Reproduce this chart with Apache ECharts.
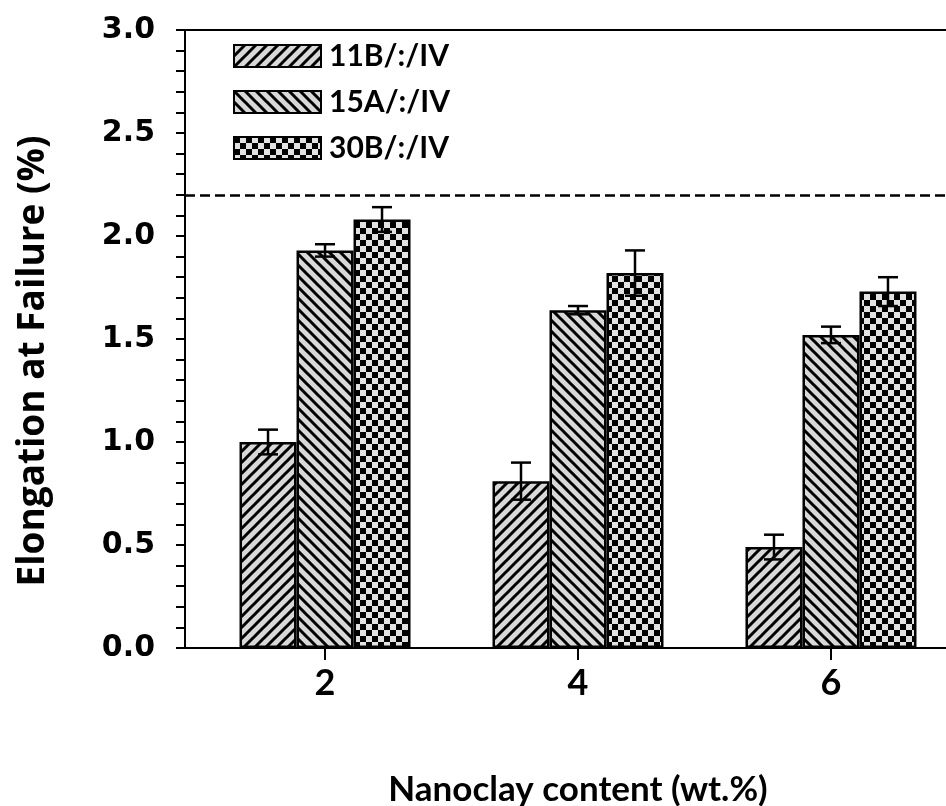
<!DOCTYPE html>
<html>
<head>
<meta charset="utf-8">
<script src="https://cdn.jsdelivr.net/npm/echarts@6/dist/echarts.min.js"></script>
<style>
html,body{margin:0;padding:0;background:#fff;}
#chart{width:946px;height:806px;}
</style>
</head>
<body>
<div id="chart"></div>
<script>
// ---- data ----
const categories = [2, 4, 6];
const seriesNames = ['11B/:/IV', '15A/:/IV', '30B/:/IV'];
const vals11B = [1.00, 0.81, 0.49];
const err11B = [0.06, 0.09, 0.06];
const vals15A = [1.93, 1.64, 1.52];
const err15A = [0.03, 0.02, 0.04];
const vals30B = [2.08, 1.82, 1.73];
const err30B = [0.06, 0.11, 0.07];
const referenceLine = 2.2;
const yTicks = [0, 0.5, 1.0, 1.5, 2.0, 2.5, 3.0];

// ---- patterns ----
function hatch(dir) {
  const s = 11;
  const c = document.createElement('canvas');
  c.width = s; c.height = s;
  const g = c.getContext('2d');
  g.fillStyle = '#d8d8d8';
  g.fillRect(0, 0, s, s);
  g.strokeStyle = '#000';
  g.lineWidth = 3;
  g.beginPath();
  if (dir > 0) {
    g.moveTo(-2, s + 2); g.lineTo(s + 2, -2);
    g.moveTo(-2, 2); g.lineTo(2, -2);
    g.moveTo(s - 2, s + 2); g.lineTo(s + 2, s - 2);
  } else {
    g.moveTo(-2, -2); g.lineTo(s + 2, s + 2);
    g.moveTo(s - 2, -2); g.lineTo(s + 2, 2);
    g.moveTo(-2, s - 2); g.lineTo(2, s + 2);
  }
  g.stroke();
  return { image: c, repeat: 'repeat' };
}
function checker() {
  const q = 6;
  const c = document.createElement('canvas');
  c.width = 2 * q; c.height = 2 * q;
  const g = c.getContext('2d');
  g.fillStyle = '#e2e2e2';
  g.fillRect(0, 0, 2 * q, 2 * q);
  g.fillStyle = '#000';
  g.fillRect(0, 0, q, q);
  g.fillRect(q, q, q, q);
  return { image: c, repeat: 'repeat' };
}
const fills = [hatch(1), hatch(-1), checker()];
const valueSets = [vals11B, vals15A, vals30B];
const errSets = [err11B, err15A, err30B];

const BAR_W = 57;

const series = [];
seriesNames.forEach((name, i) => {
  const s = {
    name: name,
    type: 'bar',
    barWidth: BAR_W,
    barGap: '0%',
    data: categories.map((c, j) => [c, valueSets[i][j]]),
    itemStyle: { color: fills[i], borderColor: '#000', borderWidth: 2.5 },
    emphasis: { disabled: true },
    z: 2
  };
  if (i === 0) {
    s.markLine = {
      silent: true,
      symbol: ['none', 'none'],
      label: { show: false },
      lineStyle: { color: '#000', type: [10, 5], width: 2.5 },
      data: [{ yAxis: referenceLine }]
    };
  }
  series.push(s);
});
seriesNames.forEach((name, i) => {
  series.push({
    type: 'custom',
    name: name + '_err',
    z: 5,
    data: categories.map((c, j) => [c, valueSets[i][j], errSets[i][j]]),
    encode: { x: 0, y: 1 },
    renderItem: function (params, api) {
      const x = api.value(0), v = api.value(1), e = api.value(2);
      const top = api.coord([x, v + e]);
      const bot = api.coord([x, v - e]);
      const px = top[0] + (i - 1) * BAR_W;
      const cap = 10;
      const st = { stroke: '#000', lineWidth: 2.5 };
      return {
        type: 'group',
        children: [
          { type: 'line', shape: { x1: px, y1: top[1], x2: px, y2: bot[1] }, style: st },
          { type: 'line', shape: { x1: px - cap, y1: top[1], x2: px + cap, y2: top[1] }, style: st },
          { type: 'line', shape: { x1: px - cap, y1: bot[1], x2: px + cap, y2: bot[1] }, style: st }
        ]
      };
    }
  });
});

const chart = echarts.init(document.getElementById('chart'), null, { renderer: 'canvas' });
chart.setOption({
  animation: false,
  backgroundColor: '#fff',
  grid: {
    left: 185, top: 30, bottom: 158, right: -25,
    outerBoundsMode: 'none',
    containLabel: false,
    show: true, borderColor: '#000', borderWidth: 2, backgroundColor: 'transparent'
  },
  legend: {
    data: seriesNames,
    orient: 'vertical',
    left: 228, top: 36,
    icon: 'rect',
    itemWidth: 87, itemHeight: 22,
    itemGap: 16,
    selectedMode: false,
    textStyle: { fontFamily: 'Lato', fontWeight: 'bold', fontSize: 30, color: '#000', padding: [0, 0, 0, 3] }
  },
  xAxis: {
    type: 'value',
    min: 0.893, max: 7.107,
    splitLine: { show: false },
    axisLine: { show: true, onZero: false, lineStyle: { color: '#000', width: 2 } },
    axisTick: { show: true, customValues: categories, length: 12, lineStyle: { color: '#000', width: 2 } },
    axisLabel: {
      customValues: categories,
      margin: 17,
      formatter: v => String(v),
      fontFamily: 'Lato', fontWeight: 'bold', fontSize: 36, color: '#000'
    },
    name: 'Nanoclay content (wt.%)',
    nameLocation: 'middle',
    nameGap: 124,
    nameTextStyle: { fontFamily: 'Lato', fontWeight: 'bold', fontSize: 35, color: '#000', verticalAlign: 'top' }
  },
  yAxis: {
    type: 'value',
    min: 0, max: 3, interval: 0.5,
    splitLine: { show: false },
    axisLine: { show: true, lineStyle: { color: '#000', width: 2 } },
    axisTick: { show: true, length: 9, lineStyle: { color: '#000', width: 2 } },
    minorTick: { show: true, splitNumber: 5, length: 9, lineStyle: { color: '#000', width: 2 } },
    axisLabel: {
      margin: 30,
      formatter: v => v.toFixed(1),
      fontFamily: 'DejaVu Sans', fontWeight: 'bold', fontSize: 30, color: '#000'
    },
    name: 'Elongation at Failure (%)',
    nameLocation: 'middle',
    nameGap: 133,
    nameTextStyle: { fontFamily: 'Open Sans', fontWeight: 'bold', fontSize: 37, color: '#000', padding: [0, 44, 0, 0] }
  },
  series: series
});
</script>
</body>
</html>
